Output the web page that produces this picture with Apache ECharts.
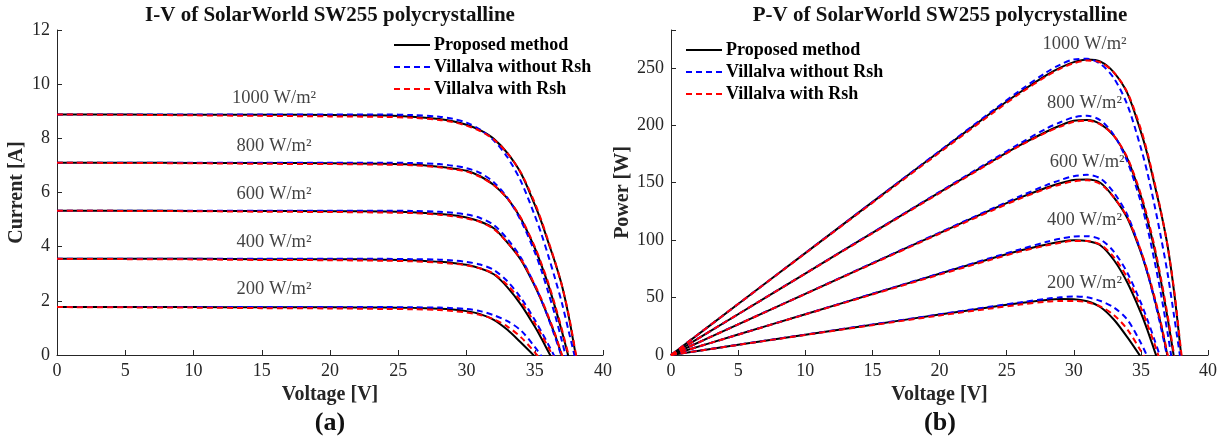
<!DOCTYPE html>
<html>
<head>
<meta charset="utf-8">
<script src="https://cdn.jsdelivr.net/npm/echarts@6/dist/echarts.min.js"></script>
<style>
  html, body { margin: 0; padding: 0; background: #fff; }
  #chart { width: 1223px; height: 441px; }
</style>
</head>
<body>
<div id="chart"></div>
<script>
// voltage grid shared by every curve [V]
const voltage = [0, 5, 10, 15, 20, 24, 26, 28, 29, 30, 31, 32, 33, 34, 35, 35.5, 36, 36.5, 37, 37.5, 38, 38.5];
const irradiance = ['1000 W/m²', '800 W/m²', '600 W/m²', '400 W/m²', '200 W/m²'];

// I-V, current [A] (values past Voc are cut off by the axis at 0)
const ivProposed1000 = [8.88, 8.88, 8.87, 8.87, 8.86, 8.84, 8.80, 8.71, 8.63, 8.50, 8.30, 7.98, 7.45, 6.70, 5.55, 4.90, 4.15, 3.40, 2.55, 1.40, 0.00];
const ivProposed800 = [7.10, 7.10, 7.09, 7.09, 7.08, 7.06, 7.03, 6.95, 6.89, 6.80, 6.60, 6.28, 5.78, 5.02, 3.95, 3.30, 2.58, 1.75, 0.85, -0.12];
const ivProposed600 = [5.33, 5.33, 5.32, 5.32, 5.31, 5.30, 5.27, 5.21, 5.16, 5.08, 4.93, 4.68, 4.15, 3.50, 2.55, 2.00, 1.38, 0.72, -0.05];
const ivProposed400 = [3.55, 3.55, 3.55, 3.54, 3.54, 3.52, 3.50, 3.44, 3.40, 3.33, 3.20, 2.98, 2.50, 1.85, 1.05, 0.60, 0.12, -0.35];
const ivProposed200 = [1.77, 1.77, 1.77, 1.76, 1.76, 1.75, 1.74, 1.71, 1.68, 1.62, 1.51, 1.30, 0.93, 0.45, -0.05];

const ivNoRsh1000 = [8.88, 8.88, 8.88, 8.88, 8.88, 8.88, 8.86, 8.80, 8.72, 8.58, 8.32, 7.92, 7.30, 6.40, 5.15, 4.45, 3.65, 2.80, 1.90, 0.85, -0.20];
const ivNoRsh800 = [7.10, 7.10, 7.10, 7.10, 7.10, 7.10, 7.09, 7.05, 6.99, 6.90, 6.72, 6.38, 5.80, 4.95, 3.80, 3.10, 2.30, 1.45, 0.50, -0.50];
const ivNoRsh600 = [5.33, 5.33, 5.33, 5.33, 5.33, 5.33, 5.32, 5.29, 5.25, 5.19, 5.06, 4.80, 4.28, 3.58, 2.58, 2.00, 1.35, 0.65, -0.10];
const ivNoRsh400 = [3.55, 3.55, 3.55, 3.55, 3.55, 3.55, 3.54, 3.52, 3.49, 3.44, 3.34, 3.14, 2.72, 2.10, 1.30, 0.85, 0.38, -0.10];
const ivNoRsh200 = [1.77, 1.77, 1.77, 1.77, 1.77, 1.77, 1.76, 1.75, 1.73, 1.70, 1.62, 1.47, 1.25, 0.90, 0.30, -0.05];

const ivRsh1000 = [8.88, 8.87, 8.85, 8.83, 8.81, 8.79, 8.76, 8.68, 8.60, 8.47, 8.27, 7.96, 7.45, 6.72, 5.62, 4.95, 4.20, 3.42, 2.55, 1.45, 0.08, -1.20];
const ivRsh800 = [7.10, 7.09, 7.08, 7.06, 7.05, 7.03, 7.01, 6.93, 6.86, 6.77, 6.58, 6.27, 5.78, 5.05, 4.00, 3.36, 2.65, 1.82, 0.92, -0.05];
const ivRsh600 = [5.33, 5.32, 5.31, 5.29, 5.28, 5.26, 5.24, 5.18, 5.12, 5.04, 4.91, 4.65, 4.15, 3.52, 2.60, 2.05, 1.43, 0.76, 0.00, -0.70];
const ivRsh400 = [3.55, 3.54, 3.53, 3.51, 3.50, 3.48, 3.46, 3.41, 3.37, 3.31, 3.20, 3.00, 2.58, 1.97, 1.18, 0.74, 0.28, -0.20];
const ivRsh200 = [1.77, 1.76, 1.75, 1.73, 1.72, 1.70, 1.69, 1.66, 1.62, 1.57, 1.48, 1.32, 1.05, 0.65, 0.10, -0.20];

// P-V, power [W]
const pvProposed1000 = [0, 44.4, 88.7, 133.1, 177.2, 212.2, 228.8, 243.9, 250.3, 255.0, 257.3, 255.4, 245.9, 227.8, 194.3, 174.0, 149.4, 124.1, 94.4, 52.5, 0];
const pvProposed800 = [0, 35.5, 70.9, 106.4, 141.6, 169.4, 182.8, 194.6, 199.8, 204.0, 204.6, 201.0, 190.7, 170.7, 138.3, 117.2, 92.9, 63.9, 31.5, -4.5];
const pvProposed600 = [0, 26.7, 53.2, 79.8, 106.2, 127.2, 137.0, 145.9, 149.6, 152.4, 152.8, 149.8, 137.0, 119.0, 89.3, 71.0, 49.7, 26.3, -1.9];
const pvProposed400 = [0, 17.8, 35.5, 53.1, 70.8, 84.5, 91.0, 96.3, 98.6, 99.9, 99.2, 95.4, 82.5, 62.9, 36.8, 21.3, 4.3, -12.8];
const pvProposed200 = [0, 8.9, 17.7, 26.4, 35.2, 42.0, 45.2, 47.9, 48.7, 48.6, 46.8, 41.6, 30.7, 15.3, -1.8];

const pvNoRsh1000 = [0, 44.4, 88.8, 133.2, 177.6, 213.1, 230.4, 246.4, 252.9, 257.4, 257.9, 253.4, 240.9, 217.6, 180.3, 158.0, 131.4, 102.2, 70.3, 31.9, -7.6];
const pvNoRsh800 = [0, 35.5, 71.0, 106.5, 142.0, 170.4, 184.3, 197.4, 202.7, 207.0, 208.3, 204.2, 191.4, 168.3, 133.0, 110.1, 82.8, 52.9, 18.5, -18.8];
const pvNoRsh600 = [0, 26.7, 53.3, 80.0, 106.6, 127.9, 138.3, 148.1, 152.3, 155.7, 156.9, 153.6, 141.2, 121.7, 90.3, 71.0, 48.6, 23.7, -3.7];
const pvNoRsh400 = [0, 17.8, 35.5, 53.3, 71.0, 85.2, 92.0, 98.6, 101.2, 103.2, 103.5, 100.5, 89.8, 71.4, 45.5, 30.2, 13.7, -3.7];
const pvNoRsh200 = [0, 8.9, 17.7, 26.6, 35.4, 42.5, 45.8, 49.0, 50.2, 51.0, 50.2, 47.0, 41.3, 30.6, 10.5, -1.8];

const pvRsh1000 = [0, 44.4, 88.5, 132.5, 176.2, 211.0, 227.8, 243.0, 249.4, 254.1, 256.4, 254.7, 245.9, 228.5, 196.7, 175.7, 151.2, 124.8, 94.4, 54.4, 3.0, -46.2];
const pvRsh800 = [0, 35.5, 70.8, 105.9, 141.0, 168.7, 182.3, 194.0, 198.9, 203.1, 204.0, 200.6, 190.7, 171.7, 140.0, 119.3, 95.4, 66.4, 34.0, -1.9];
const pvRsh600 = [0, 26.6, 53.1, 79.4, 105.6, 126.2, 136.2, 145.0, 148.5, 151.2, 152.2, 148.8, 137.0, 119.7, 91.0, 72.8, 51.5, 27.7, 0, -26.3];
const pvRsh400 = [0, 17.7, 35.3, 52.7, 70.0, 83.5, 90.0, 95.5, 97.7, 99.3, 99.2, 96.0, 85.1, 67.0, 41.3, 26.3, 10.1, -7.3];
const pvRsh200 = [0, 8.8, 17.5, 26.0, 34.4, 40.8, 43.9, 46.5, 47.0, 47.1, 45.9, 42.2, 34.7, 22.1, 3.5, -7.1];

// where the irradiance texts sit (axis units)
const ivLabelAt = [[15.9, 9.5], [15.9, 7.72], [15.9, 5.94], [15.9, 4.17], [15.9, 2.42]];
const pvLabelAt = [[30.8, 271], [30.8, 219], [31.0, 168], [30.8, 117], [30.8, 63]];

const models = [
  { name: 'Proposed method', color: '#000000', dash: 'solid',
    iv: [ivProposed1000, ivProposed800, ivProposed600, ivProposed400, ivProposed200],
    pv: [pvProposed1000, pvProposed800, pvProposed600, pvProposed400, pvProposed200] },
  { name: 'Villalva without Rsh', color: '#0000ff', dash: [6, 4],
    iv: [ivNoRsh1000, ivNoRsh800, ivNoRsh600, ivNoRsh400, ivNoRsh200],
    pv: [pvNoRsh1000, pvNoRsh800, pvNoRsh600, pvNoRsh400, pvNoRsh200] },
  { name: 'Villalva with Rsh', color: '#ff0000', dash: [6, 4],
    iv: [ivRsh1000, ivRsh800, ivRsh600, ivRsh400, ivRsh200],
    pv: [pvRsh1000, pvRsh800, pvRsh600, pvRsh400, pvRsh200] }
];

const FONT = "'Liberation Serif', 'Times New Roman', serif";
const INK = '#262626';

function pairs(values) {
  return values.map((v, i) => [voltage[i], v]);
}

var series = [];
models.forEach(function (m) {
  [m.iv, m.pv].forEach(function (set, g) {
    set.forEach(function (values) {
      series.push({
        name: m.name,
        type: 'line',
        xAxisIndex: g,
        yAxisIndex: g,
        data: pairs(values),
        showSymbol: false,
        symbol: 'none',
        smooth: 0.3,
        clip: true,
        lineStyle: { color: m.color, width: 2, type: m.dash },
        itemStyle: { color: m.color },
        silent: true
      });
    });
  });
});

// irradiance texts
[ivLabelAt, pvLabelAt].forEach(function (pos, g) {
  series.push({
    type: 'scatter',
    xAxisIndex: g,
    yAxisIndex: g,
    symbolSize: 0,
    silent: true,
    data: pos.map((p, i) => ({ value: p, name: irradiance[i] })),
    label: {
      show: true,
      position: 'inside',
      formatter: '{b}',
      fontFamily: FONT,
      fontSize: 18.5,
      color: '#111'
    }
  });
});

function xAxisFor(g) {
  return {
    type: 'value', gridIndex: g, min: 0, max: 40, interval: 5,
    name: 'Voltage [V]', nameLocation: 'middle', nameGap: 30,
    nameTextStyle: { fontFamily: FONT, fontWeight: 'bold', fontSize: 20, color: INK },
    axisLine: { show: true, onZero: false, lineStyle: { color: INK, width: 1 } },
    axisTick: { show: true, inside: true, length: 5, lineStyle: { color: INK } },
    axisLabel: { fontFamily: FONT, fontSize: 18, color: INK, margin: 7 },
    splitLine: { show: false }
  };
}

function yAxisFor(g, name, max, interval, gap) {
  return {
    type: 'value', gridIndex: g, min: 0, max: max, interval: interval,
    name: name, nameLocation: 'middle', nameGap: gap,
    nameTextStyle: { fontFamily: FONT, fontWeight: 'bold', fontSize: 20, color: INK },
    axisLine: { show: true, onZero: false, lineStyle: { color: INK, width: 1 } },
    axisTick: { show: true, inside: true, length: 5, lineStyle: { color: INK } },
    axisLabel: {
      fontFamily: FONT, fontSize: 18, color: INK, margin: 7,
      formatter: function (v) { return v % interval === 0 ? String(v) : ''; }
    },
    splitLine: { show: false }
  };
}

var legendBase = {
  orient: 'vertical',
  data: models.map(m => m.name),
  padding: 0,
  itemWidth: 36,
  itemHeight: 14,
  itemGap: 4,
  selectedMode: false,
  itemStyle: { opacity: 0 },
  lineStyle: { opacity: 1 },
  textStyle: { fontFamily: FONT, fontWeight: 'bold', fontSize: 18, color: '#000', padding: [0, 0, 0, -1] }
};

var titleFont = 'bold 21px ' + FONT;

var option = {
  animation: false,
  backgroundColor: '#ffffff',
  grid: [
    { left: 57, top: 30, width: 546, height: 325, containLabel: false },
    { left: 671, top: 30, width: 537, height: 325, containLabel: false }
  ],
  xAxis: [xAxisFor(0), xAxisFor(1)],
  yAxis: [
    yAxisFor(0, 'Current [A]', 12, 2, 30),
    yAxisFor(1, 'Power [W]', 283, 50, 38)
  ],
  legend: [
    Object.assign({ left: 393, top: 36 }, legendBase),
    Object.assign({ left: 685, top: 41 }, legendBase)
  ],
  graphic: [
    { type: 'text', x: 330, y: 16, style: { text: 'I-V of SolarWorld SW255 polycrystalline', font: titleFont, fill: '#111', textAlign: 'center', textVerticalAlign: 'middle' } },
    { type: 'text', x: 940, y: 16, style: { text: 'P-V of SolarWorld SW255 polycrystalline', font: titleFont, fill: '#111', textAlign: 'center', textVerticalAlign: 'middle' } },
    { type: 'text', x: 330, y: 423, style: { text: '(a)', font: 'bold 26px ' + FONT, fill: '#111', textAlign: 'center', textVerticalAlign: 'middle' } },
    { type: 'text', x: 940, y: 423, style: { text: '(b)', font: 'bold 26px ' + FONT, fill: '#111', textAlign: 'center', textVerticalAlign: 'middle' } }
  ],
  series: series
};

var chart = echarts.init(document.getElementById('chart'), null, { renderer: 'canvas' });
chart.setOption(option);
</script>
</body>
</html>
